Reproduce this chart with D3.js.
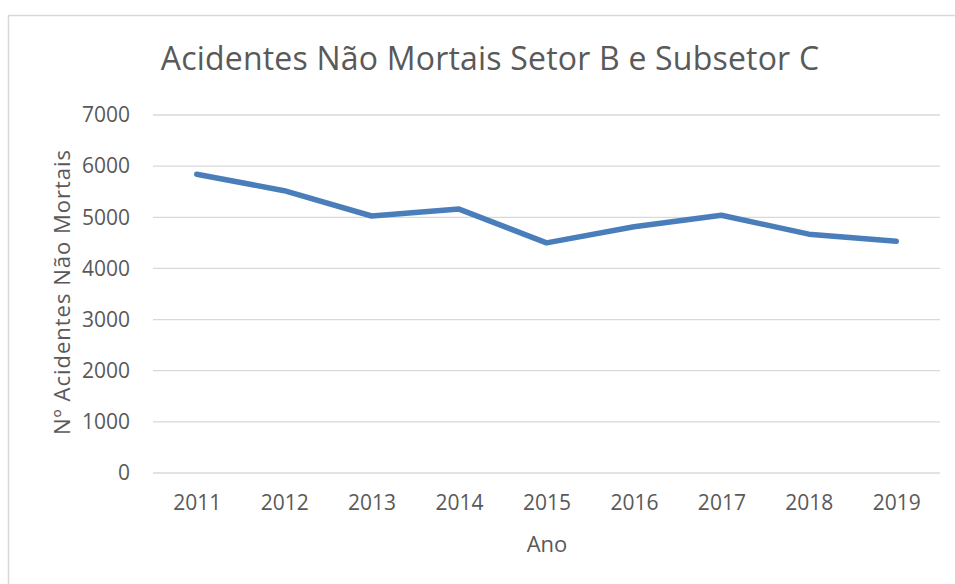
<!DOCTYPE html>
<html>
<head>
<meta charset="utf-8">
<script src="https://cdn.jsdelivr.net/npm/d3@7"></script>
<style>
  body { margin: 0; background: #fff; }
  text { font-family: "Open Sans", sans-serif; fill: #595959; }
</style>
</head>
<body>
<div id="chart"></div>
<script>
var anos = ["2011", "2012", "2013", "2014", "2015", "2016", "2017", "2018", "2019"]
var acidentes = [5840, 5520, 5025, 5160, 4500, 4815, 5040, 4670, 4530]
var yTicks = [0, 1000, 2000, 3000, 4000, 5000, 6000, 7000]

var width = 955, height = 584
var mLeft = 153, mRight = 940, mTop = 115, mBottom = 473

var svg = d3.select("#chart").append("svg")
    .attr("width", width)
    .attr("height", height)

// chart frame (continues past the picture edge)
svg.append("rect")
    .attr("x", 8.5).attr("y", 15.5)
    .attr("width", 960).attr("height", 600)
    .attr("fill", "none")
    .attr("stroke", "#d9d9d9")
    .attr("stroke-width", 1.5)

var x = d3.scalePoint()
    .domain(anos)
    .range([mLeft, mRight])
    .padding(0.5)

var y = d3.scaleLinear()
    .domain([0, 7000])
    .range([mBottom, mTop])

// gridlines
svg.append("g")
    .selectAll("line").data(yTicks)
    .enter().append("line")
    .attr("x1", mLeft).attr("x2", mRight)
    .attr("y1", function(d){ return y(d) }).attr("y2", function(d){ return y(d) })
    .attr("stroke", "#d9d9d9")
    .attr("stroke-width", 1.3)

var yAxis = d3.axisLeft(y).tickValues(yTicks).tickFormat(d3.format("d")).tickSize(0).tickPadding(23)
svg.append("g")
    .attr("transform", "translate(" + mLeft + ",0)")
    .call(yAxis)
    .call(function(g){ g.select(".domain").remove() })
    .selectAll("text")
    .style("font-family", "Open Sans").style("font-size", "21px").attr("fill", "#595959")

var xAxis = d3.axisBottom(x).tickSize(0).tickPadding(22)
svg.append("g")
    .attr("transform", "translate(0," + mBottom + ")")
    .call(xAxis)
    .call(function(g){ g.select(".domain").remove() })
    .selectAll("text")
    .style("font-family", "Open Sans").style("font-size", "21px").attr("fill", "#595959")

var line = d3.line()
    .x(function(d, i){ return x(anos[i]) })
    .y(function(d){ return y(d) })

svg.append("path")
    .datum(acidentes)
    .attr("d", line)
    .attr("fill", "none")
    .attr("stroke", "#4a7ebb")
    .attr("stroke-width", 5.5)
    .attr("stroke-linecap", "round")
    .attr("stroke-linejoin", "round")

// title
svg.append("text")
    .attr("x", 490).attr("y", 70)
    .attr("text-anchor", "middle")
    .style("font-size", "32px")
    .style("letter-spacing", "0.2px")
    .text("Acidentes Não Mortais Setor B e Subsetor C")

// axis titles
svg.append("text")
    .attr("x", 547).attr("y", 552)
    .attr("text-anchor", "middle")
    .style("font-size", "22px")
    .text("Ano")

svg.append("text")
    .attr("transform", "translate(70,292) rotate(-90)")
    .attr("text-anchor", "middle")
    .style("font-size", "22px")
    .style("letter-spacing", "1px")
    .text("Nº Acidentes Não Mortais")
</script>
</body>
</html>
